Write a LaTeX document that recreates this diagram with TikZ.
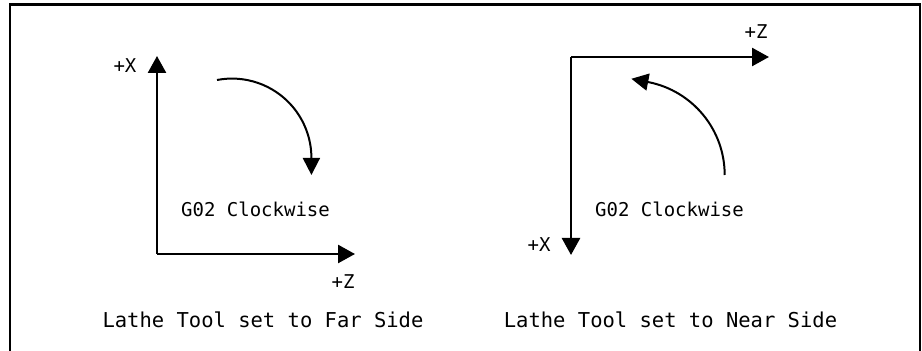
\documentclass[tikz,border=0pt]{standalone}
\usepackage{fontspec}
\setmonofont{DejaVu Sans Mono}
\usetikzlibrary{arrows.meta}
\begin{document}
\begin{tikzpicture}[x=1pt,y=1pt,
  axis/.style={line width=2.6pt,-{Triangle[length=17pt,width=18pt]}},
  turn/.style={line width=2pt,-{Triangle[length=17pt,width=17pt]}},
  lbl/.style={anchor=base,inner sep=0pt,font=\ttfamily\fontsize{19}{19}\selectfont},
  captext/.style={anchor=base,inner sep=0pt,font=\ttfamily\fontsize{20.5}{20.5}\selectfont}]
\useasboundingbox (0,0) rectangle (922,351);
\fill[white] (0,0) rectangle (922,351);
\draw[line width=2.6pt] (10,-2) -- (10,346.5) -- (920,346.5) -- (920,-2);
% left diagram
\coordinate (O1) at (157,97);
\coordinate (X1) at (157,295);
\coordinate (Z1) at (355,97);
\draw[axis] (O1) -- (X1);
\draw[axis] (O1) -- (Z1);
\draw[turn] (217,271) arc[start angle=100.9,end angle=0,radius=79.4] -- ++(0,-17) coordinate (T1);
\node[lbl] (px1) at (125,278.3) {+X};
\node[lbl] (pz1) at (343,62.7) {+Z};
\node[lbl] (g1) at (255.5,134.3) {G02 Clockwise};
\node[captext] (c1) at (263,23.7) {Lathe Tool set to Far Side};
% right diagram
\coordinate (O2) at (571,294);
\coordinate (X2) at (571,96);
\coordinate (Z2) at (769,294);
\draw[axis] (O2) -- (X2);
\draw[axis] (O2) -- (Z2);
\draw[turn] (724.7,176) arc[start angle=0,end angle=79,radius=94.7] -- ++(169:17) coordinate (T2);
\node[lbl] (pz2) at (756,312.7) {+Z};
\node[lbl] (px2) at (539,99.3) {+X};
\node[lbl] (g2) at (669.5,134.3) {G02 Clockwise};
\node[captext] (c2) at (670.5,23.7) {Lathe Tool set to Near Side};
\end{tikzpicture}
\end{document}
